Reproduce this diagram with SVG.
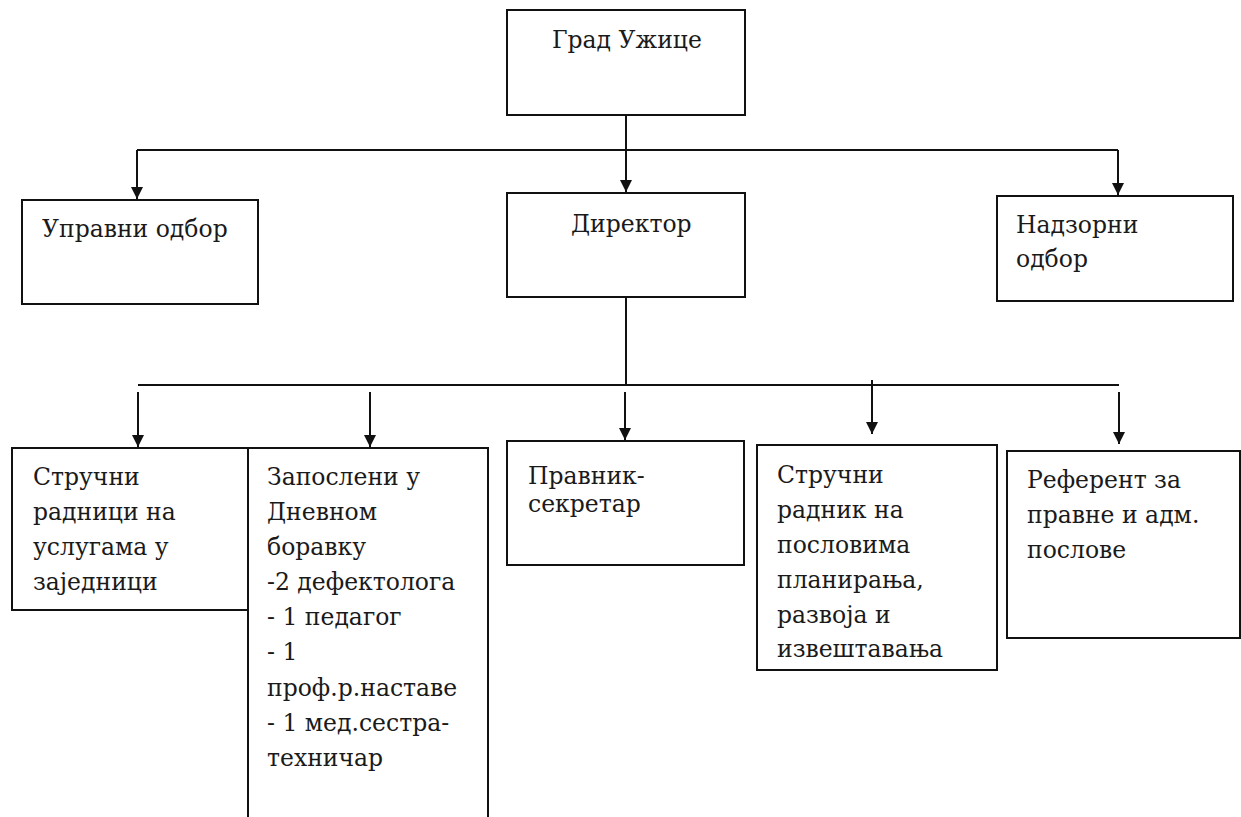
<svg xmlns="http://www.w3.org/2000/svg" width="1241" height="817" viewBox="0 0 1241 817">
<style>
.box{fill:#fff;stroke:#111;stroke-width:2}
.t{font-family:'DejaVu Serif','Liberation Serif',serif;font-size:23.5px;fill:#1a1a1a}
.c{stroke:#111;stroke-width:2;fill:none}
</style>
<defs>
<marker id="ah" viewBox="0 0 10 10" refX="10" refY="5" markerWidth="12" markerHeight="12" markerUnits="userSpaceOnUse" orient="auto">
<path d="M0,0 L10,5 L0,10 z" fill="#111"/>
</marker>
</defs>
<rect width="1241" height="817" fill="#fff"/>
<g id="connectors">
<line class="c" x1="626" y1="115" x2="626" y2="192" marker-end="url(#ah)"/>
<line class="c" x1="137" y1="150" x2="1118" y2="150"/>
<line class="c" x1="137" y1="150" x2="137" y2="199" marker-end="url(#ah)"/>
<line class="c" x1="1118" y1="150" x2="1118" y2="195" marker-end="url(#ah)"/>
<line class="c" x1="626" y1="297" x2="626" y2="385"/>
<line class="c" x1="138" y1="385" x2="1119" y2="385"/>
<line class="c" x1="138" y1="392" x2="138" y2="447" marker-end="url(#ah)"/>
<line class="c" x1="370" y1="392" x2="370" y2="447" marker-end="url(#ah)"/>
<line class="c" x1="625" y1="392" x2="625" y2="440" marker-end="url(#ah)"/>
<line class="c" x1="872" y1="380" x2="872" y2="434" marker-end="url(#ah)"/>
<line class="c" x1="1119" y1="392" x2="1119" y2="444" marker-end="url(#ah)"/>
</g>
<g id="grad">
<rect class="box" x="507" y="10" width="238" height="105"/>
<text class="t" x="552" y="48">Град Ужице</text>
</g>
<g id="upravni">
<rect class="box" x="22" y="200" width="236" height="104"/>
<text class="t" x="42" y="237">Управни одбор</text>
</g>
<g id="direktor">
<rect class="box" x="507" y="193" width="238" height="104"/>
<text class="t" x="571" y="232">Директор</text>
</g>
<g id="nadzorni">
<rect class="box" x="997" y="196" width="236" height="105"/>
<text class="t" x="1016" y="233">Надзорни</text>
<text class="t" x="1016" y="267">одбор</text>
</g>
<g id="strucni-radnici">
<rect class="box" x="12" y="448" width="236" height="162"/>
<text class="t" x="33" y="485">Стручни</text>
<text class="t" x="33" y="520">радници на</text>
<text class="t" x="33" y="555">услугама у</text>
<text class="t" x="33" y="590">заједници</text>
</g>
<g id="zaposleni">
<rect class="box" x="248" y="448" width="240" height="380"/>
<text class="t" x="267" y="485">Запослени у</text>
<text class="t" x="267" y="520">Дневном</text>
<text class="t" x="267" y="555">боравку</text>
<text class="t" x="267" y="590">-2 дефектолога</text>
<text class="t" x="267" y="625">- 1 педагог</text>
<text class="t" x="267" y="660">- 1</text>
<text class="t" x="267" y="696">проф.р.наставе</text>
<text class="t" x="267" y="731">- 1 мед.сестра-</text>
<text class="t" x="267" y="766">техничар</text>
</g>
<g id="pravnik">
<rect class="box" x="507" y="441" width="237" height="124"/>
<text class="t" x="528" y="484">Правник-</text>
<text class="t" x="528" y="512">секретар</text>
</g>
<g id="strucni-radnik">
<rect class="box" x="757" y="445" width="240" height="225"/>
<text class="t" x="777" y="483">Стручни</text>
<text class="t" x="777" y="518">радник на</text>
<text class="t" x="777" y="553">пословима</text>
<text class="t" x="777" y="588">планирања,</text>
<text class="t" x="777" y="623">развоја и</text>
<text class="t" x="777" y="657">извештавања</text>
</g>
<g id="referent">
<rect class="box" x="1007" y="451" width="233" height="187"/>
<text class="t" x="1027" y="488">Референт за</text>
<text class="t" x="1027" y="523">правне и адм.</text>
<text class="t" x="1027" y="558">послове</text>
</g>
</svg>
